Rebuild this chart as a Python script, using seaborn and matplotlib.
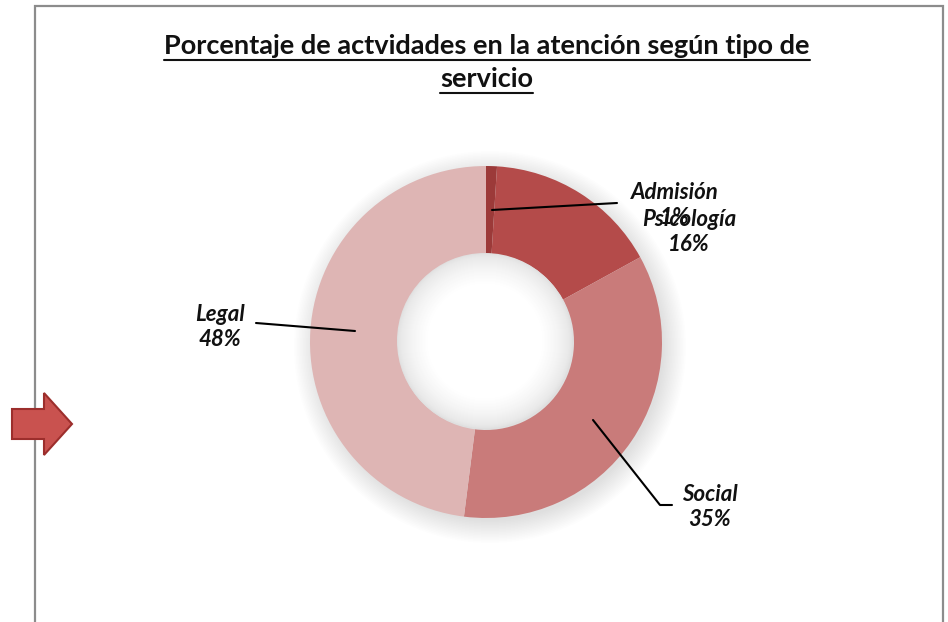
import matplotlib
matplotlib.use("Agg")
import matplotlib.pyplot as plt
import seaborn as sns
from matplotlib.patches import Circle, FancyArrow, Rectangle

categories = ["Admisión", "Psicología", "Social", "Legal"]
values = [1, 16, 35, 48]
colors = ["#9C3A39", "#B44B4A", "#C97B7A", "#DEB5B4"]

sns.set_theme(style="white")
plt.rcParams["font.family"] = ["Lato", "DejaVu Sans"]

W, H = 948, 622
fig = plt.figure(figsize=(W / 100, H / 100), dpi=100)
ax = fig.add_axes([0, 0, 1, 1])

# chart frame
ax.add_patch(Rectangle((35, -5), 908, H - 6 + 5, fill=False, ec="#8C8C8C", lw=1.6, zorder=1))

cx, cy, r = 486, 280, 176
r_in = r * 0.5

# soft shadow behind the ring
for i in range(16):
    ax.add_patch(Circle((cx + 4, cy - 5), r + 20 - i * 1.5, color="black",
                        alpha=0.008, lw=0, zorder=2))

wedges, _ = ax.pie(values, colors=colors, startangle=90, counterclock=False,
                   center=(cx, cy), radius=r, wedgeprops=dict(width=r - r_in, lw=0),
                   frame=True)
for w in wedges:
    w.set_zorder(3)

# hole: white fading to light grey at its edge (opaque rings, edge -> centre)
steps = 30
for i in range(steps + 1):
    f = (i / steps) ** 0.6
    g = 0.88 + (1.0 - 0.88) * f
    ax.add_patch(Circle((cx - 1, cy + 1), r_in - i * 1.0, color=(g, g, g), lw=0, zorder=4))

ax.set_xlim(0, W)
ax.set_ylim(0, H)
ax.set_aspect("equal")
ax.axis("off")

# labels with leader lines (pixel layout, y measured from top)
label_pos = {
    "Admisión": (675, 205),
    "Psicología": (689, 232),
    "Social": (710, 507),
    "Legal": (220, 327),
}
leaders = {
    "Admisión": [(492, 210), (617, 203)],
    "Psicología": None,
    "Social": [(593, 420), (660, 505), (672, 505)],
    "Legal": [(355, 331), (256, 323)],
}
for cat, val in zip(categories, values):
    x, y = label_pos[cat]
    ax.text(x, H - y, f"{cat}\n{val}%", ha="center", va="center", fontsize=16,
            fontweight="bold", style="italic", color="#111111", linespacing=1.2, zorder=6)
    pts = leaders[cat]
    if pts:
        xs = [p[0] for p in pts]
        ys = [H - p[1] for p in pts]
        ax.plot(xs, ys, color="black", lw=1.5, zorder=5)

# title with underline
title_lines = ["Porcentaje de actvidades en la atención según tipo de", "servicio"]
fig.canvas.draw()
renderer = fig.canvas.get_renderer()
for line, ty in zip(title_lines, [46, 79]):
    t = ax.text(487, H - ty, line, ha="center", va="center", fontsize=19.5,
                fontweight="bold", color="#111111", zorder=6)
    bb = t.get_window_extent(renderer)
    ax.plot([bb.x0, bb.x1], [H - ty - 14, H - ty - 14], color="#111111", lw=1.5, zorder=6)

# red block arrow on the left
ax.add_patch(FancyArrow(12, H - 424, 32, 0, width=30, head_width=62, head_length=28,
                        length_includes_head=False, fc="#C9524F", ec="#9C2E2C", lw=1.5, zorder=7))

fig.savefig("out.png", dpi=100)
